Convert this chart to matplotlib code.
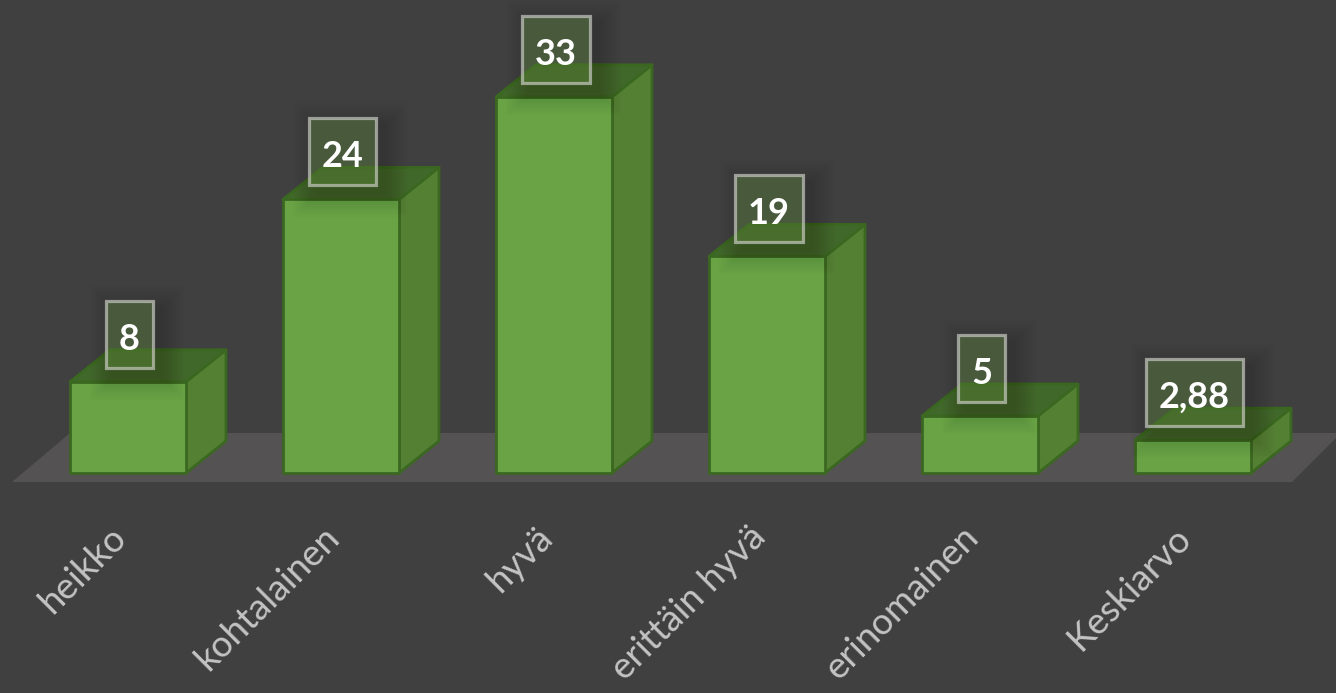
import matplotlib
matplotlib.use("Agg")
import matplotlib.pyplot as plt
from matplotlib.patches import Polygon, Rectangle

categories = ["heikko", "kohtalainen", "hyvä", "erittäin hyvä", "erinomainen", "Keskiarvo"]
values = [8, 24, 33, 19, 5, 2.88]
value_labels = ["8", "24", "33", "19", "5", "2,88"]

W, H = 1336, 693
BG = "#404040"
FLOOR = "#545253"
FRONT = "#6aa345"
SIDE = "#548034"
TOP = "#41682b"
EDGE = "#3a6820"
TICK = "#c4c4c4"

# pixel layout of the chart area
STEP = 213.0      # px per category
X0 = 128.0        # px of first bar centre
Y0 = 473.0        # px of value 0
PX_PER_UNIT = 11.4

plt.rcParams["font.family"] = ["Lato", "DejaVu Sans"]

fig = plt.figure(figsize=(W / 100, H / 100), dpi=100, facecolor=BG)
ax = fig.add_axes([0, 0, 1, 1])
ax.set_facecolor(BG)
ax.axis("off")
ax.set_xlim(-X0 / STEP, (W - X0) / STEP)
ax.set_ylim(-(H - Y0) / PX_PER_UNIT, Y0 / PX_PER_UNIT)

bar_w = 116 / STEP
dx = 40 / STEP
dy = 32 / PX_PER_UNIT


def px(x, y):
    """pixel coords of the picture to data coords"""
    return (x - X0) / STEP, (Y0 - y) / PX_PER_UNIT


# floor
ax.add_patch(Polygon([px(12, 482), px(70, 433), px(1336, 433), px(1336, 438), px(1292, 482)],
                     closed=True, fc=FLOOR, ec="none", zorder=1))

for i, v in enumerate(values):
    l, r = i - bar_w / 2, i + bar_w / 2
    ax.add_patch(Polygon([(r, 0), (r + dx, dy), (r + dx, v + dy), (r, v)],
                         closed=True, fc=SIDE, ec=EDGE, lw=2.0, zorder=2, joinstyle="round"))
    ax.add_patch(Polygon([(l, v), (l + dx, v + dy), (r + dx, v + dy), (r, v)],
                         closed=True, fc=TOP, ec=EDGE, lw=2.0, zorder=2, joinstyle="round"))
    ax.add_patch(Rectangle((l, 0), bar_w, v, fc=FRONT, ec=EDGE, lw=2.0, zorder=3, joinstyle="round"))

    # category label
    ax.annotate(categories[i], (i, 0), xytext=(-13.5, -34), textcoords="offset points",
                rotation=45, rotation_mode="anchor", ha="right", va="top",
                fontsize=26.5, color=TICK, annotation_clip=False, zorder=6)

fig.canvas.draw()
renderer = fig.canvas.get_renderer()

box_h = 67 / PX_PER_UNIT
for i, v in enumerate(values):
    yc = v + 47.5 / PX_PER_UNIT
    xc = i + 1.5 / STEP
    t = ax.text(xc, yc - 5 / PX_PER_UNIT, value_labels[i], ha="center", va="center", fontsize=26,
                fontweight="bold", color="white", zorder=9)
    tw = t.get_window_extent(renderer).width
    box_w = (tw + 26) / STEP

    # soft shadow behind the label
    for g in range(12):
        grow = 24 - 2 * g
        ax.add_patch(Rectangle((xc - box_w / 2 + (8 - grow) / STEP, yc - box_h / 2 - (8 + grow) / PX_PER_UNIT),
                               box_w + 2 * grow / STEP, box_h + 2 * grow / PX_PER_UNIT,
                               fc="black", ec="none", alpha=0.012, zorder=4))
    ax.add_patch(Rectangle((xc - box_w / 2, yc - box_h / 2), box_w, box_h,
                           fc=(0.45, 0.66, 0.30, 0.32), ec=(0.82, 0.82, 0.80, 0.65), lw=2.3, zorder=8))

fig.savefig("out.png", dpi=100, facecolor=BG)
